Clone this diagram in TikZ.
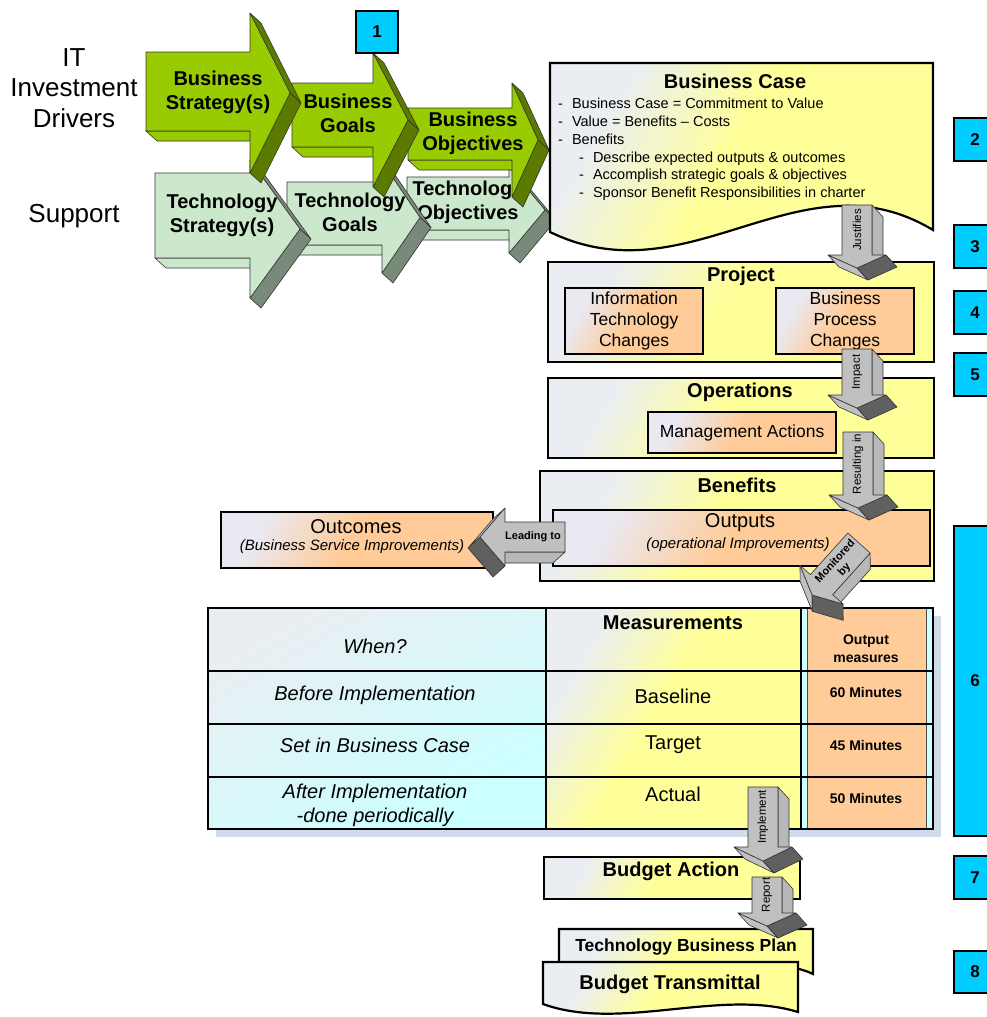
\documentclass[tikz,border=0pt]{standalone}
\usepackage{fontspec}
\setmainfont{Liberation Sans}
\usetikzlibrary{positioning}

\definecolor{numcyan}{RGB}{0,204,255}
\definecolor{paleyellow}{RGB}{255,255,153}
\definecolor{palegray}{RGB}{234,238,242}
\definecolor{peach}{RGB}{255,204,153}
\definecolor{lavgray}{RGB}{234,232,240}
\definecolor{palecyan}{RGB}{204,255,255}
\definecolor{bizgreen}{RGB}{153,204,0}
\definecolor{bizdark}{RGB}{92,122,0}
\definecolor{techmint}{RGB}{204,232,204}
\definecolor{techdark}{RGB}{122,138,122}
\definecolor{arrowgray}{RGB}{192,192,192}
\definecolor{arrowside}{RGB}{184,184,184}
\definecolor{arrowdark}{RGB}{96,96,96}
\definecolor{shadowblue}{RGB}{208,218,234}

\pgfdeclarehorizontalshading{yellowpaper}{100bp}{color(0bp)=(palegray); color(27bp)=(palegray); color(46bp)=(paleyellow); color(100bp)=(paleyellow)}
\pgfdeclarehorizontalshading{peachpaper}{100bp}{color(0bp)=(lavgray); color(27bp)=(lavgray); color(48bp)=(peach); color(100bp)=(peach)}
\pgfdeclarehorizontalshading{cyanpaper}{100bp}{color(0bp)=(palegray); color(25bp)=(palegray); color(72bp)=(palecyan); color(100bp)=(palecyan)}

% strategy arrow: left, shaft end, tip, body top, body bottom, head top, head bottom, front, side
\newcommand\stratarrow[9]{%
  \pgfmathsetmacro\tipy{(#6+#7)/2}
  \filldraw[facedraw, fill=#8] (#1,#5) -- (#2,#5) -- (#2+11,#5+10) -- (#1+11,#5+10) -- cycle;
  \filldraw[facedraw, fill=#9] (#2,#6) -- (#3,\tipy) -- (#3+11,\tipy+10) -- (#2+11,#6+10) -- cycle;
  \filldraw[facedraw, fill=#9] (#3,\tipy) -- (#2,#7) -- (#2+11,#7+10) -- (#3+11,\tipy+10) -- cycle;
  \filldraw[facedraw, fill=#8] (#1,#4) -- (#2,#4) -- (#2,#6) -- (#3,\tipy) -- (#2,#7) -- (#2,#5) -- (#1,#5) -- cycle;
}
% gray block arrow: start, rotation, shaft length, head length
\newcommand\blockarrow[4]{%
  \begin{scope}[shift={#1}, rotate=#2]
    \filldraw[facedraw, fill=arrowside] (15,0) -- (15,#3) -- (26,#3+12) -- (26,12) -- cycle;
    \filldraw[facedraw, fill=arrowgray] (-29,#3) -- (0,#3+#4) -- (11,#3+#4+12) -- (-18,#3+12) -- cycle;
    \filldraw[facedraw, fill=arrowdark] (0,#3+#4) -- (29,#3) -- (40,#3+12) -- (11,#3+#4+12) -- cycle;
    \filldraw[facedraw, fill=arrowgray] (-15,0) -- (15,0) -- (15,#3) -- (29,#3) -- (0,#3+#4) -- (-29,#3) -- (-15,#3) -- cycle;
  \end{scope}}

\begin{document}
\begin{tikzpicture}[x=1pt, y=-1pt,
    facedraw/.style={draw=black!80, line width=0.6pt, line join=round},
    paper/.style={line width=2.2pt, shade, shading=yellowpaper, shading angle=-30},
    ybox/.style={paper, draw, inner sep=0pt, anchor=north west},
    obox/.style={draw, line width=2.2pt, shade, shading=peachpaper, shading angle=-30, inner sep=0pt, anchor=north west},
    numbox/.style={draw, line width=2.2pt, fill=numcyan, font=\fontsize{17}{20}\selectfont\bfseries, inner sep=0pt, anchor=north west, minimum width=42},
    sidetext/.style={font=\fontsize{26}{30.5}\selectfont, align=center},
    stepname/.style={font=\fontsize{20}{24}\selectfont\bfseries, align=center},
    boxtitle/.style={font=\fontsize{20}{24}\selectfont\bfseries},
    boxtext/.style={font=\fontsize{17.5}{20.7}\selectfont, align=center},
    casetext/.style={font=\fontsize{14.5}{18}\selectfont, anchor=base west, inner sep=0pt},
    subtext/.style={font=\fontsize{15}{18}\selectfont\itshape},
    flowlabel/.style={font=\fontsize{11.5}{13}\selectfont, inner sep=0pt, align=center},
    boldlabel/.style={flowlabel, font=\fontsize{11}{12.5}\selectfont\bfseries},
    grid/.style={line width=2.4pt},
    whentext/.style={font=\fontsize{20}{24}\selectfont\itshape, align=center},
    meastext/.style={font=\fontsize{20}{24}\selectfont},
    outtext/.style={font=\fontsize{14}{18}\selectfont\bfseries, align=center}
]
    \useasboundingbox (0,0) rectangle (987,1017);

    % Drivers
    \node[sidetext] (drivers) at (74,88) {IT\\Investment\\Drivers};
    \node[sidetext] (support) at (74,216) {Support};

    % Technology row
    \stratarrow{407}{509}{545}{177}{230}{167}{253}{techmint}{techdark}
    \node[stepname] (tobj) at (468,202) {Technology\\Objectives};
    \stratarrow{287}{382}{420}{182}{245}{162}{273}{techmint}{techdark}
    \node[stepname] (tgoal) at (350,212) {Technology\\Goals};
    \stratarrow{155}{250}{300}{173}{258}{160}{298}{techmint}{techdark}
    \node[stepname] (tstrat) at (222,215) {Technology\\Strategy(s)};

    % Business row
    \stratarrow{408}{512}{538}{108}{160}{83}{197}{bizgreen}{bizdark}
    \node[stepname] (bobj) at (473,133) {Business\\Objectives};
    \stratarrow{292}{373}{408}{83}{147}{53}{187}{bizgreen}{bizdark}
    \node[stepname] (bgoal) at (348,113) {Business\\Goals};
    \stratarrow{146}{250}{290}{52}{131}{13}{173}{bizgreen}{bizdark}
    \node[stepname] (bstrat) at (218,92) {Business\\Strategy(s)};

    \node[numbox, minimum height=42] (num1) at (355,10) {1};

    % Business Case
    \draw[paper, draw] (550,63) -- (933,63) -- (933,230) .. controls (800,150) and (690,300) .. (550,232) -- cycle;
    \node[boxtitle] (case) at (735,81) {Business Case};
    \foreach \y/\txt in {108/{Business Case = Commitment to Value}, 126/{Value = Benefits -- Costs}, 144/Benefits}
        \node[casetext] at (558,\y) {-\hspace{9pt}\txt};
    \foreach \y/\txt in {162/{Describe expected outputs \& outcomes}, 179/{Accomplish strategic goals \& objectives}, 197/{Sponsor Benefit Responsibilities in charter}}
        \node[casetext] at (579,\y) {-\hspace{9pt}\txt};

    % Project
    \node[ybox, minimum width=386, minimum height=100] (project) at (547,261) {};
    \node[boxtitle] at (741,276) {Project};
    \node[obox, minimum width=138, minimum height=66] (itchg) at (564,287) {};
    \node[boxtext] at (itchg.center) {Information\\Technology\\Changes};
    \node[obox, minimum width=138, minimum height=66] (bpchg) at (775,287) {};
    \node[boxtext] at (bpchg.center) {Business\\Process\\Changes};

    % Operations
    \node[ybox, minimum width=386, minimum height=80] (operations) at (547,377) {};
    \node[boxtitle] at (740,392) {Operations};
    \node[obox, minimum width=188, minimum height=41] (mgmt) at (647,411) {};
    \node[boxtext] at (mgmt.center) {Management Actions};

    % Benefits
    \node[ybox, minimum width=394, minimum height=110] (benefits) at (539,470) {};
    \node[boxtitle] at (737,485) {Benefits};
    \node[obox, minimum width=377, minimum height=56] (outputs) at (552,509) {};
    \node[meastext] at (740,523) {Outputs};
    \node[subtext] at (738,545) {(operational Improvements)};
    \node[obox, minimum width=272, minimum height=56] (outcomes) at (220,511) {};
    \node[meastext] at (356,527) {Outcomes};
    \node[subtext] at (352,547) {(Business Service Improvements)};

    % Measurements table
    \fill[shadowblue] (216,616) rectangle (941,837);
    \shade[shading=cyanpaper, shading angle=-60] (208,608) rectangle (546,829);
    \shade[shading=yellowpaper, shading angle=-30] (546,608) rectangle (801,829);
    \fill[palecyan] (801,608) rectangle (933,829);
    \filldraw[fill=peach, draw=black!70, line width=0.8pt] (807,608) rectangle (926,829);
    \foreach \y in {671,724,777}
        \draw[grid] (208,\y) -- (933,\y);
    \draw[grid] (546,608) -- (546,829) (801,608) -- (801,829);
    \draw[grid] (208,608) rectangle (933,829);

    \node[whentext] (when) at (375,646) {When?};
    \node[boxtitle] (meas) at (673,623) {Measurements};
    \node[outtext] (outm) at (866,649) {Output\\measures};
    \node[whentext] (before) at (375,695) {Before Implementation};
    \node[meastext] (baseline) at (673,696) {Baseline};
    \node[outtext] (m60) at (866,692) {60 Minutes};
    \node[whentext] (setin) at (375,745) {Set in Business Case};
    \node[meastext] (target) at (673,745) {Target};
    \node[outtext] (m45) at (866,745) {45 Minutes};
    \node[whentext] (after) at (375,805) {After Implementation\\-done periodically};
    \node[meastext] (actual) at (673,794) {Actual};
    \node[outtext] (m50) at (866,798) {50 Minutes};

    % Budget documents
    \node[ybox, minimum width=256, minimum height=42] (budget) at (543,856) {};
    \node[boxtitle] at (671,871) {Budget Action};
    \draw[paper, draw] (559,929) -- (813,929) -- (813,974) .. controls (760,948) and (660,992) .. (559,968) -- cycle;
    \node[boxtitle, font=\fontsize{17.5}{20}\selectfont\bfseries] (tbp) at (686,947) {Technology Business Plan};
    \draw[paper, draw] (543,962) -- (798,962) -- (798,1012) .. controls (720,988) and (620,1032) .. (543,1004) -- cycle;
    \node[boxtitle] (transmittal) at (670,984) {Budget Transmittal};

    % Step numbers
    \foreach \n/\y/\h in {2/117/43, 3/224/43, 4/290/43, 5/352/43, 6/525/310, 7/855/43, 8/950/42}
        \node[numbox, minimum height=\h] (num\n) at (953,\y) {\n};

    % Flow arrows
    \blockarrow{(857,205)}{0}{50}{13}
    \node[flowlabel, rotate=90] at (857,230) {Justifies};
    \blockarrow{(857,349)}{0}{46}{13}
    \node[flowlabel, rotate=90] at (857,372) {Impact};
    \blockarrow{(858,432)}{0}{63}{13}
    \node[flowlabel, rotate=90] at (858,464) {Resulting in};
    \blockarrow{(859,543)}{-42}{56}{14}
    \node[boldlabel, rotate=48] at (840,566) {Monitored\\by};
    \blockarrow{(565,537)}{-90}{60}{25}
    \node[boldlabel] at (533,537) {Leading to};
    \blockarrow{(763,787)}{0}{60}{14}
    \node[flowlabel, rotate=90] at (763,817) {Implement};
    \blockarrow{(767,877)}{0}{36}{13}
    \node[flowlabel, rotate=90] at (767,895) {Report};
\end{tikzpicture}
\end{document}
